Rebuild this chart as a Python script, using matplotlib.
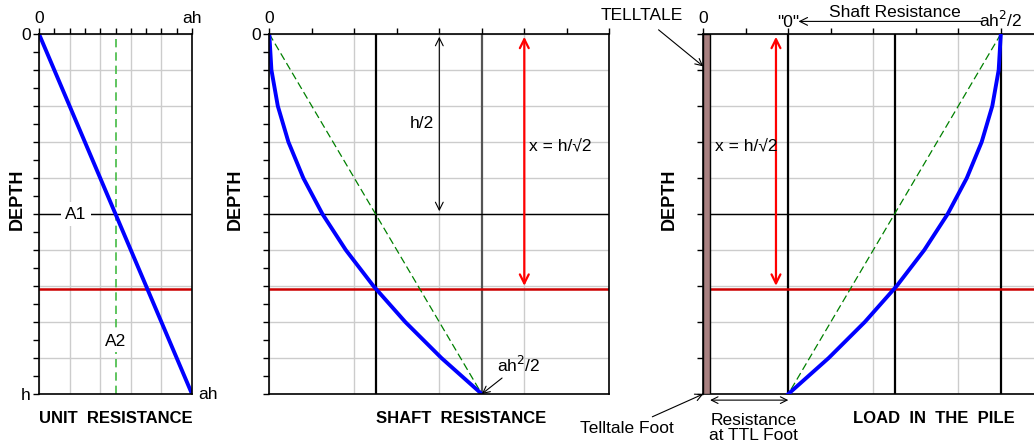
import matplotlib.pyplot as plt
import numpy as np

plt.rcParams['font.family'] = ['Liberation Sans', 'DejaVu Sans']

# depth as a fraction of h (0 = top, 1 = h)
depth = [0.0, 0.1, 0.2, 0.3, 0.4, 0.5, 0.6, 0.7, 0.8, 0.9, 1.0]
# unit resistance, fraction of ah
unit_res = [0.0, 0.1, 0.2, 0.3, 0.4, 0.5, 0.6, 0.7, 0.8, 0.9, 1.0]
# accumulated shaft resistance (ah^2/2 = 0.5)
shaft_res = [0.0, 0.005, 0.02, 0.045, 0.08, 0.125, 0.18, 0.245, 0.32, 0.405, 0.5]
# load in the pile, telltale foot resistance "0" at 0.2
pile_load = [0.7, 0.695, 0.68, 0.655, 0.62, 0.575, 0.52, 0.455, 0.38, 0.295, 0.2]

x_depth = 0.7071  # h/sqrt(2)
half_depth = 0.5
ttl_zero = 0.2

FS = 12.5
FSB = 12

W, H = 1034, 444
fig = plt.figure(figsize=(W / 100, H / 100), dpi=100)

def make_ax(left, width, xmax, xgrid, xtick, ytick_minor=True):
    ax = fig.add_axes([left / W, 50 / H, width / W, 360 / H])
    ax.set_xlim(0, xmax)
    ax.set_ylim(1, 0)
    ax.set_xticks(np.arange(0, xmax + 1e-9, xgrid))
    ax.set_xticks(np.arange(0, xmax + 1e-9, xtick), minor=True)
    ax.set_yticks(np.arange(0, 1.0001, 0.1))
    if ytick_minor:
        ax.set_yticks(np.arange(0, 1.0001, 0.05), minor=True)
    ax.xaxis.tick_top()
    ax.tick_params(which='both', direction='out', length=4, width=1, labelsize=FS, pad=2)
    ax.grid(True, which='major', color='#cccccc', lw=1)
    ax.set_axisbelow(True)
    for s in ax.spines.values():
        s.set_linewidth(1.2)
    return ax

# ---------- left: unit resistance ----------
ax1 = make_ax(39, 153, 1.0, 0.2, 0.1)
ax1.set_xticklabels(['0', '', '', '', '', 'ah'])
ax1.set_yticklabels(['0'] + [''] * 9 + ['h'])
ax1.axvline(0.5, color='#44bb44', lw=1.2, ls='--', dashes=(5, 3))
ax1.axhline(half_depth, color='black', lw=1)
ax1.axhline(x_depth, color='#cc0000', lw=1.8)
ax1.plot(unit_res, depth, color='#0000ff', lw=2.8)
ax1.text(0.24, 0.5, 'A1', fontsize=FS, ha='center', va='center',
         bbox=dict(fc='white', ec='none', pad=3))
ax1.text(0.5, 0.855, 'A2', fontsize=FS, ha='center', va='center',
         bbox=dict(fc='white', ec='none', pad=2))
ax1.text(1.04, 1.0, 'ah', fontsize=FS, ha='left', va='center')
ax1.text(0.5, 1.067, 'UNIT  RESISTANCE', fontsize=FSB, fontweight='bold',
         ha='center', va='center')
ax1.set_ylabel('DEPTH', fontsize=13, fontweight='bold')
ax1.yaxis.set_label_coords(-0.085, 0.54)

# ---------- middle: shaft resistance ----------
ax2 = make_ax(269.3, 340, 0.8, 0.2, 0.1)
ax2.set_xticklabels(['0', '', '', '', ''])
ax2.set_yticklabels(['0'] + [''] * 10)
ax2.axvline(0.25, color='black', lw=1.6)
ax2.axvline(0.5, color='#555555', lw=1.6)
ax2.axhline(half_depth, color='black', lw=1)
ax2.axhline(x_depth, color='#cc0000', lw=1.8)
ax2.plot([0, 0.5], [0, 1], color='green', lw=0.9, ls='--', dashes=(6, 3))
ax2.plot(shaft_res, depth, color='#0000ff', lw=2.8)
ax2.annotate('', xy=(0.4, 0), xytext=(0.4, half_depth),
             arrowprops=dict(arrowstyle='<->', color='black', lw=0.8, mutation_scale=14))
ax2.text(0.36, 0.25, 'h/2', fontsize=FS, ha='center', va='center')
ax2.annotate('', xy=(0.6, 0.0), xytext=(0.6, x_depth),
             arrowprops=dict(arrowstyle='<->', color='red', lw=1.6, mutation_scale=16))
ax2.text(0.685, 0.31, 'x = h/\u221a2', fontsize=FS, ha='center', va='center')
ax2.annotate('ah$^2$/2', xy=(0.5, 1.0), xytext=(0.535, 0.92), fontsize=FS,
             ha='left', va='center',
             arrowprops=dict(arrowstyle='->', color='black', lw=0.8, shrinkA=0, shrinkB=0))
ax2.text(0.451, 1.067, 'SHAFT  RESISTANCE', fontsize=FSB, fontweight='bold',
         ha='center', va='center')
ax2.set_ylabel('DEPTH', fontsize=13, fontweight='bold')
ax2.yaxis.set_label_coords(-0.074, 0.54)

# ---------- right: load in the pile ----------
ax3 = make_ax(703.3, 340, 0.8, 0.2, 0.1, ytick_minor=False)
ax3.set_xticklabels(['0', '', '', '', ''])
ax3.set_yticklabels([''] * 11)
ax3.spines['right'].set_visible(False)
ax3.axvspan(0, 0.016, color='#a88080', ec='black', lw=1, zorder=3)
for xv in [ttl_zero, 0.45, 0.7]:
    ax3.axvline(xv, color='black', lw=1.6)
ax3.axhline(half_depth, color='black', lw=1)
ax3.axhline(x_depth, color='#cc0000', lw=1.8)
ax3.plot([0.7, ttl_zero], [0, 1], color='green', lw=0.9, ls='--', dashes=(6, 3))
ax3.plot(pile_load, depth, color='#0000ff', lw=2.8, zorder=4)
ax3.annotate('', xy=(0.171, 0.0), xytext=(0.171, x_depth),
             arrowprops=dict(arrowstyle='<->', color='red', lw=1.6, mutation_scale=16))
ax3.text(0.028, 0.31, 'x = h/\u221a2', fontsize=FS, ha='left', va='center')
ax3.text(ttl_zero, -0.012, '"0"', fontsize=FS, ha='center', va='bottom')
ax3.text(0.7, -0.012, 'ah$^2$/2', fontsize=FS, ha='center', va='bottom')
ax3.annotate('', xy=(0.224, -0.035), xytext=(0.655, -0.035),
             arrowprops=dict(arrowstyle='->', color='black', lw=0.8, mutation_scale=14,
                             shrinkA=0, shrinkB=0),
             annotation_clip=False)
ax3.text(0.45, -0.04, 'Shaft Resistance', fontsize=FS, ha='center', va='bottom')
ax3.annotate('TELLTALE', xy=(0.0, 0.09), xytext=(-0.145, -0.05), fontsize=FS,
             ha='center', va='center', annotation_clip=False,
             arrowprops=dict(arrowstyle='->', color='black', lw=0.8, shrinkA=4, shrinkB=0))
ax3.annotate('Telltale Foot', xy=(0.0, 1.0), xytext=(-0.18, 1.095), fontsize=FS,
             ha='center', va='center', annotation_clip=False,
             arrowprops=dict(arrowstyle='->', color='black', lw=0.8, shrinkA=2, shrinkB=0))
ax3.annotate('', xy=(0.016, 1.017), xytext=(ttl_zero, 1.017), annotation_clip=False,
             arrowprops=dict(arrowstyle='<->', color='black', lw=0.8, mutation_scale=12,
                             shrinkA=0, shrinkB=0))
ax3.text(0.118, 1.095, 'Resistance\nat TTL Foot', fontsize=FS, ha='center', va='center',
         linespacing=1.0)
ax3.text(0.543, 1.067, 'LOAD  IN  THE  PILE', fontsize=FSB, fontweight='bold',
         ha='center', va='center')
ax3.set_ylabel('DEPTH', fontsize=13, fontweight='bold')
ax3.yaxis.set_label_coords(-0.074, 0.54)

plt.savefig('out.png', dpi=100)
